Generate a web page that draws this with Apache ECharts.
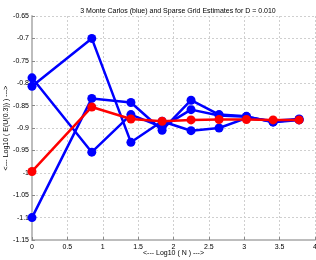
<!DOCTYPE html>
<html>
<head>
<meta charset="utf-8">
<script src="https://cdn.jsdelivr.net/npm/echarts@6/dist/echarts.min.js"></script>
<style>
  html, body { margin: 0; padding: 0; background: #fff; }
  #chart { width: 316px; height: 260px; }
</style>
</head>
<body>
<div id="chart"></div>
<script>
// log10 of the number of points N
const logN = [0, 0.845, 1.398, 1.839, 2.248, 2.644, 3.031, 3.408, 3.775];

// Sparse grid estimate (red)
const sparseGrid = [-0.997, -0.853, -0.880, -0.885, -0.882, -0.881, -0.881, -0.882, -0.882];

// Three Monte Carlo runs (blue)
const monteCarlo1 = [-0.788, -0.954, -0.870, -0.898, -0.859, -0.872, -0.875, -0.886, -0.881];
const monteCarlo2 = [-0.807, -0.700, -0.932, -0.885, -0.906, -0.900, -0.878, -0.884, -0.880];
const monteCarlo3 = [-1.100, -0.834, -0.843, -0.905, -0.838, -0.870, -0.874, -0.887, -0.882];

const titleText = '3 Monte Carlos (blue) and Sparse Grid Estimates for D = 0.010';
const xName = '<--- Log10 ( N ) --->';
const yName = '<--- Log10 ( E(U(0.3)) ) --->';

const font = 'Liberation Sans';

function pairs(ys) {
    return ys.map((y, i) => [logN[i], y]);
}

function lineSeries(name, ys, color, z) {
    return {
        name: name,
        type: 'line',
        data: pairs(ys),
        symbol: 'circle',
        symbolSize: 9,
        z: z,
        lineStyle: { color: color, width: 2.5 },
        itemStyle: { color: color },
        animation: false
    };
}

let myChart = echarts.init(document.getElementById('chart'));

const gridLine = { show: true, lineStyle: { color: '#cfcfcf', type: [2, 2], width: 1 } };
const axisText = { fontFamily: font, fontSize: 7, color: '#000' };

let option = {
    backgroundColor: '#fff',
    title: {
        text: titleText,
        left: 173,
        textAlign: 'center',
        top: 3,
        textStyle: { fontFamily: font, fontSize: 7, fontWeight: 'normal', color: '#000' }
    },
    grid: { left: 32, right: 1, top: 16, bottom: 20, outerBoundsMode: 'none', containLabel: false },
    xAxis: {
        type: 'value',
        min: 0,
        max: 4,
        interval: 0.5,
        name: xName,
        nameLocation: 'middle',
        nameGap: 10,
        nameMoveOverlap: false,
        nameTextStyle: axisText,
        axisLine: { show: true, onZero: false, lineStyle: { color: '#bdbdbd', width: 2 } },
        axisTick: { show: true, inside: true, length: 3, lineStyle: { color: '#888' } },
        axisLabel: Object.assign({ margin: 4 }, axisText),
        splitLine: gridLine
    },
    yAxis: {
        type: 'value',
        min: -1.15,
        max: -0.65,
        interval: 0.05,
        name: yName,
        nameLocation: 'middle',
        nameGap: 22,
        nameMoveOverlap: false,
        nameTextStyle: axisText,
        axisLine: { show: true, onZero: false, lineStyle: { color: '#bdbdbd', width: 2 } },
        axisTick: { show: true, inside: true, length: 3, lineStyle: { color: '#888' } },
        axisLabel: Object.assign({
            margin: 3,
            formatter: v => String(parseFloat(v.toFixed(2)))
        }, axisText),
        splitLine: gridLine
    },
    series: [
        lineSeries('MC 1', monteCarlo1, '#0000ff', 2),
        lineSeries('MC 2', monteCarlo2, '#0000ff', 2),
        lineSeries('MC 3', monteCarlo3, '#0000ff', 2),
        lineSeries('Sparse grid', sparseGrid, '#ff0000', 3)
    ]
};

myChart.setOption(option, true);
</script>
</body>
</html>
